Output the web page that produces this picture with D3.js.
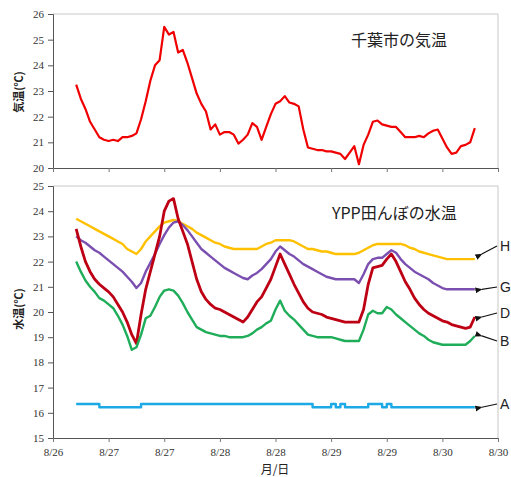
<!DOCTYPE html>
<html>
<head>
<meta charset="utf-8">
<script src="https://cdn.jsdelivr.net/npm/d3@7/dist/d3.min.js"></script>
<style>
  html, body { margin: 0; padding: 0; background: #fff; }
  svg { display: block; }
</style>
</head>
<body>
<svg id="chart" width="511" height="477"></svg>
<script>
// Hourly readings, hours counted from 8/26 13:00 (first reading 8/26 18:00)
const hours = d3.range(5, 92);

// X axis: every 12 hours, labelled by date
const tickHours = [0, 12, 24, 36, 48, 60, 72, 84, 96];
const tickLabels = ["8/26", "8/27", "8/27", "8/28", "8/28", "8/29", "8/29", "8/30", "8/30"];

// Chiba city air temperature (°C)
const airTemp = [
  23.25, 22.7, 22.3, 21.8, 21.5, 21.2, 21.1, 21.05, 21.1, 21.05,
  21.2, 21.2, 21.25, 21.35, 21.9, 22.6, 23.4, 24.0, 24.2, 25.5,
  25.2, 25.3, 24.5, 24.6, 24.1, 23.5, 22.9, 22.5, 22.2, 21.5,
  21.7, 21.3, 21.4, 21.4, 21.3, 20.95, 21.1, 21.3, 21.75, 21.6,
  21.1, 21.6, 22.1, 22.5, 22.6, 22.8, 22.55, 22.5, 22.4, 21.5,
  20.8, 20.75, 20.7, 20.7, 20.65, 20.65, 20.6, 20.55, 20.35, 20.6,
  20.85, 20.15, 20.9, 21.3, 21.8, 21.85, 21.7, 21.65, 21.6, 21.6,
  21.4, 21.2, 21.2, 21.2, 21.25, 21.2, 21.35, 21.45, 21.5, 21.15,
  20.8, 20.55, 20.6, 20.85, 20.9, 21.0, 21.55
];

// YPP paddy water temperature (°C) at points H, G, D, B, A
const waterH = [
  23.7, 23.6, 23.5, 23.4, 23.3, 23.2, 23.1, 23.0, 22.9, 22.8,
  22.7, 22.5, 22.4, 22.3, 22.5, 22.8, 23.0, 23.2, 23.4, 23.55,
  23.6, 23.65, 23.6, 23.5, 23.4, 23.3, 23.15, 23.05, 22.95, 22.85,
  22.75, 22.7, 22.6, 22.55, 22.5, 22.5, 22.5, 22.5, 22.5, 22.5,
  22.6, 22.7, 22.75, 22.85, 22.85, 22.85, 22.85, 22.8, 22.7, 22.6,
  22.5, 22.5, 22.45, 22.4, 22.4, 22.35, 22.3, 22.3, 22.3, 22.3,
  22.3, 22.35, 22.45, 22.55, 22.65, 22.7, 22.7, 22.7, 22.7, 22.7,
  22.7, 22.65, 22.55, 22.5, 22.4, 22.35, 22.3, 22.25, 22.2, 22.15,
  22.1, 22.1, 22.1, 22.1, 22.1, 22.1, 22.1
];
const waterG = [
  23.0, 22.85, 22.75, 22.6, 22.45, 22.35, 22.2, 22.05, 21.9, 21.75,
  21.6, 21.4, 21.2, 20.95, 21.15, 21.6, 21.95, 22.3, 22.7, 23.05,
  23.35, 23.55, 23.6, 23.45, 23.25, 23.0, 22.75, 22.5, 22.35, 22.2,
  22.05, 21.9, 21.75, 21.65, 21.55, 21.45, 21.35, 21.3, 21.45, 21.55,
  21.7, 21.9, 22.1, 22.4, 22.6, 22.45, 22.3, 22.2, 22.05, 21.9,
  21.8, 21.7, 21.6, 21.5, 21.4, 21.35, 21.3, 21.3, 21.3, 21.3,
  21.3, 21.15, 21.5, 21.9, 22.1, 22.15, 22.15, 22.3, 22.45, 22.35,
  22.1, 21.9, 21.75, 21.6, 21.5, 21.4, 21.3, 21.15, 21.05, 20.95,
  20.9, 20.9, 20.9, 20.9, 20.9, 20.9, 20.9
];
const waterD = [
  23.3, 22.6, 22.0, 21.6, 21.3, 21.1, 20.95, 20.8, 20.6, 20.3,
  20.0, 19.6, 19.1, 18.75, 19.9, 20.9, 21.6, 22.3, 23.0, 24.0,
  24.4, 24.5, 23.7, 23.2, 22.7, 22.0, 21.3, 20.8, 20.5, 20.3,
  20.15, 20.1, 20.0, 19.9, 19.8, 19.7, 19.6, 19.8, 20.1, 20.4,
  20.6, 20.95, 21.3, 21.8, 22.3, 21.9, 21.5, 21.1, 20.75, 20.4,
  20.15, 20.0, 19.95, 19.9, 19.8, 19.75, 19.7, 19.65, 19.6, 19.6,
  19.6, 19.6, 20.1, 21.1, 21.75, 21.8, 21.85, 22.1, 22.3, 22.0,
  21.6, 21.2, 20.9, 20.55, 20.3, 20.1, 19.95, 19.85, 19.75, 19.65,
  19.6, 19.5, 19.45, 19.4, 19.35, 19.4, 19.8
];
const waterB = [
  22.0, 21.6, 21.25, 21.0, 20.8, 20.55, 20.45, 20.3, 20.15, 19.85,
  19.5, 19.05, 18.5, 18.6, 19.1, 19.75, 19.85, 20.2, 20.6, 20.85,
  20.9, 20.85, 20.65, 20.35, 20.0, 19.7, 19.4, 19.3, 19.2, 19.15,
  19.1, 19.05, 19.05, 19.0, 19.0, 19.0, 19.0, 19.05, 19.15, 19.3,
  19.4, 19.55, 19.65, 20.1, 20.45, 20.05, 19.85, 19.7, 19.5, 19.3,
  19.1, 19.05, 19.0, 19.0, 19.0, 19.0, 18.95, 18.9, 18.85, 18.85,
  18.85, 18.85, 19.3, 19.9, 20.05, 19.95, 19.95, 20.2, 20.1, 19.9,
  19.75, 19.6, 19.45, 19.3, 19.15, 19.05, 18.9, 18.8, 18.75, 18.7,
  18.7, 18.7, 18.7, 18.7, 18.7, 18.85, 19.05
];
const waterA = [
  16.35, 16.35, 16.35, 16.35, 16.35, 16.22, 16.22, 16.22, 16.22, 16.22,
  16.22, 16.22, 16.22, 16.22, 16.35, 16.35, 16.35, 16.35, 16.35, 16.35,
  16.35, 16.35, 16.35, 16.35, 16.35, 16.35, 16.35, 16.35, 16.35, 16.35,
  16.35, 16.35, 16.35, 16.35, 16.35, 16.35, 16.35, 16.35, 16.35, 16.35,
  16.35, 16.35, 16.35, 16.35, 16.35, 16.35, 16.35, 16.35, 16.35, 16.35,
  16.35, 16.22, 16.22, 16.22, 16.22, 16.35, 16.22, 16.35, 16.22, 16.22,
  16.22, 16.22, 16.22, 16.35, 16.35, 16.35, 16.22, 16.35, 16.22, 16.22,
  16.22, 16.22, 16.22, 16.22, 16.22, 16.22, 16.22, 16.22, 16.22, 16.22,
  16.22, 16.22, 16.22, 16.22, 16.22, 16.22, 16.22
];

const seriesNames = ["H", "G", "D", "B", "A"];
const seriesValues = [waterH, waterG, waterD, waterB, waterA];
const seriesColors = ["#FFC000", "#7B4FB0", "#BE0014", "#1FAD5A", "#1DA9E6"];

const airTicks = [20, 21, 22, 23, 24, 25, 26];
const waterTicks = [15, 16, 17, 18, 19, 20, 21, 22, 23, 24, 25];

const svg = d3.select("#chart");
const left = 53, right = 498;

const x = d3.scaleLinear().domain([0, 96]).range([left, right]);
const yAir = d3.scaleLinear().domain([20, 26]).range([168, 14]);
const yWater = d3.scaleLinear().domain([15, 25]).range([438, 186]);

const tickFont = "'Liberation Serif', 'DejaVu Serif', serif";
const cjkFont = "'Noto Sans CJK JP', 'Noto Sans', sans-serif";

function panel(y, ticks, showXLabels) {
  const g = svg.append("g");
  const [y0, y1] = y.range();
  // light frame on top and right
  g.append("line").attr("x1", left).attr("x2", right).attr("y1", y1).attr("y2", y1)
    .attr("stroke", "#c8c8c8").attr("stroke-width", 1);
  g.append("line").attr("x1", right).attr("x2", right).attr("y1", y1).attr("y2", y0)
    .attr("stroke", "#c8c8c8").attr("stroke-width", 1);

  const yAxis = g.append("g").attr("transform", `translate(${left},0)`)
    .call(d3.axisLeft(y).tickValues(ticks).tickSize(5).tickPadding(4).tickFormat(d3.format("d")));
  yAxis.select(".domain").attr("stroke", "#555");
  yAxis.selectAll(".tick line").attr("stroke", "#555");
  yAxis.selectAll("text").attr("font-family", tickFont).attr("font-size", 11).attr("fill", "#333");

  const xAxis = g.append("g").attr("transform", `translate(0,${y0})`)
    .call(d3.axisBottom(x).tickValues(tickHours).tickSize(4).tickPadding(6)
      .tickFormat((d, i) => showXLabels ? tickLabels[i] : ""));
  xAxis.select(".domain").attr("stroke", "#555");
  xAxis.selectAll(".tick line").attr("stroke", "#777");
  xAxis.selectAll("text").attr("font-family", tickFont).attr("font-size", 11).attr("fill", "#333");
  return g;
}

// Air temperature panel
panel(yAir, airTicks, false);
const airLine = d3.line().x((d, i) => x(hours[i])).y(d => yAir(d));
svg.append("path").datum(airTemp).attr("d", airLine)
  .attr("fill", "none").attr("stroke", "#F00000").attr("stroke-width", 2.2)
  .attr("stroke-linejoin", "round");

svg.append("text").attr("x", 351).attr("y", 46).text("千葉市の気温")
  .attr("font-family", cjkFont).attr("font-size", 16).attr("fill", "#222");
svg.append("text").attr("transform", "translate(23,92) rotate(-90)")
  .attr("text-anchor", "middle").text("気温(℃)")
  .attr("font-family", cjkFont).attr("font-size", 11).attr("font-weight", "bold").attr("fill", "#222");

// Water temperature panel
panel(yWater, waterTicks, true);
seriesValues.forEach((vals, k) => {
  const line = d3.line().x((d, i) => x(hours[i])).y(d => yWater(d))
    .curve(seriesNames[k] === "A" ? d3.curveStepAfter : d3.curveLinear);
  svg.append("path").datum(vals).attr("d", line)
    .attr("fill", "none").attr("stroke", seriesColors[k])
    .attr("stroke-width", seriesNames[k] === "D" ? 2.8 : 2.4)
    .attr("stroke-linejoin", "round");
});

svg.append("text").attr("x", 332).attr("y", 219).text("YPP田んぼの水温")
  .attr("font-family", cjkFont).attr("font-size", 16).attr("fill", "#222");
svg.append("text").attr("transform", "translate(23,309) rotate(-90)")
  .attr("text-anchor", "middle").text("水温(℃)")
  .attr("font-family", cjkFont).attr("font-size", 11).attr("font-weight", "bold").attr("fill", "#222");
svg.append("text").attr("x", 275).attr("y", 474).attr("text-anchor", "middle").text("月/日")
  .attr("font-family", cjkFont).attr("font-size", 12).attr("fill", "#222");

// Point labels with arrows to the line ends
svg.append("defs").append("marker").attr("id", "arrowhead")
  .attr("viewBox", "0 0 10 10").attr("refX", 1).attr("refY", 5)
  .attr("markerWidth", 6).attr("markerHeight", 6).attr("orient", "auto-start-reverse")
  .append("path").attr("d", "M10,1 L0,5 L10,9 Z").attr("fill", "#111");

const labelY = [246, 287, 313, 341, 404];
const lastHour = hours[hours.length - 1];
seriesNames.forEach((name, k) => {
  const vals = seriesValues[k];
  const tipX = x(lastHour) + 7;
  const tipY = yWater(vals[vals.length - 1]) + (k === 0 ? -5 : 0);
  svg.append("line").attr("x1", 497).attr("y1", labelY[k]).attr("x2", tipX).attr("y2", tipY)
    .attr("stroke", "#111").attr("stroke-width", 1.2).attr("marker-end", "url(#arrowhead)");
  svg.append("text").attr("x", 500).attr("y", labelY[k] + 5).text(name)
    .attr("font-family", "'Liberation Sans', Arial, sans-serif").attr("font-size", 14).attr("fill", "#222");
});
</script>
</body>
</html>
